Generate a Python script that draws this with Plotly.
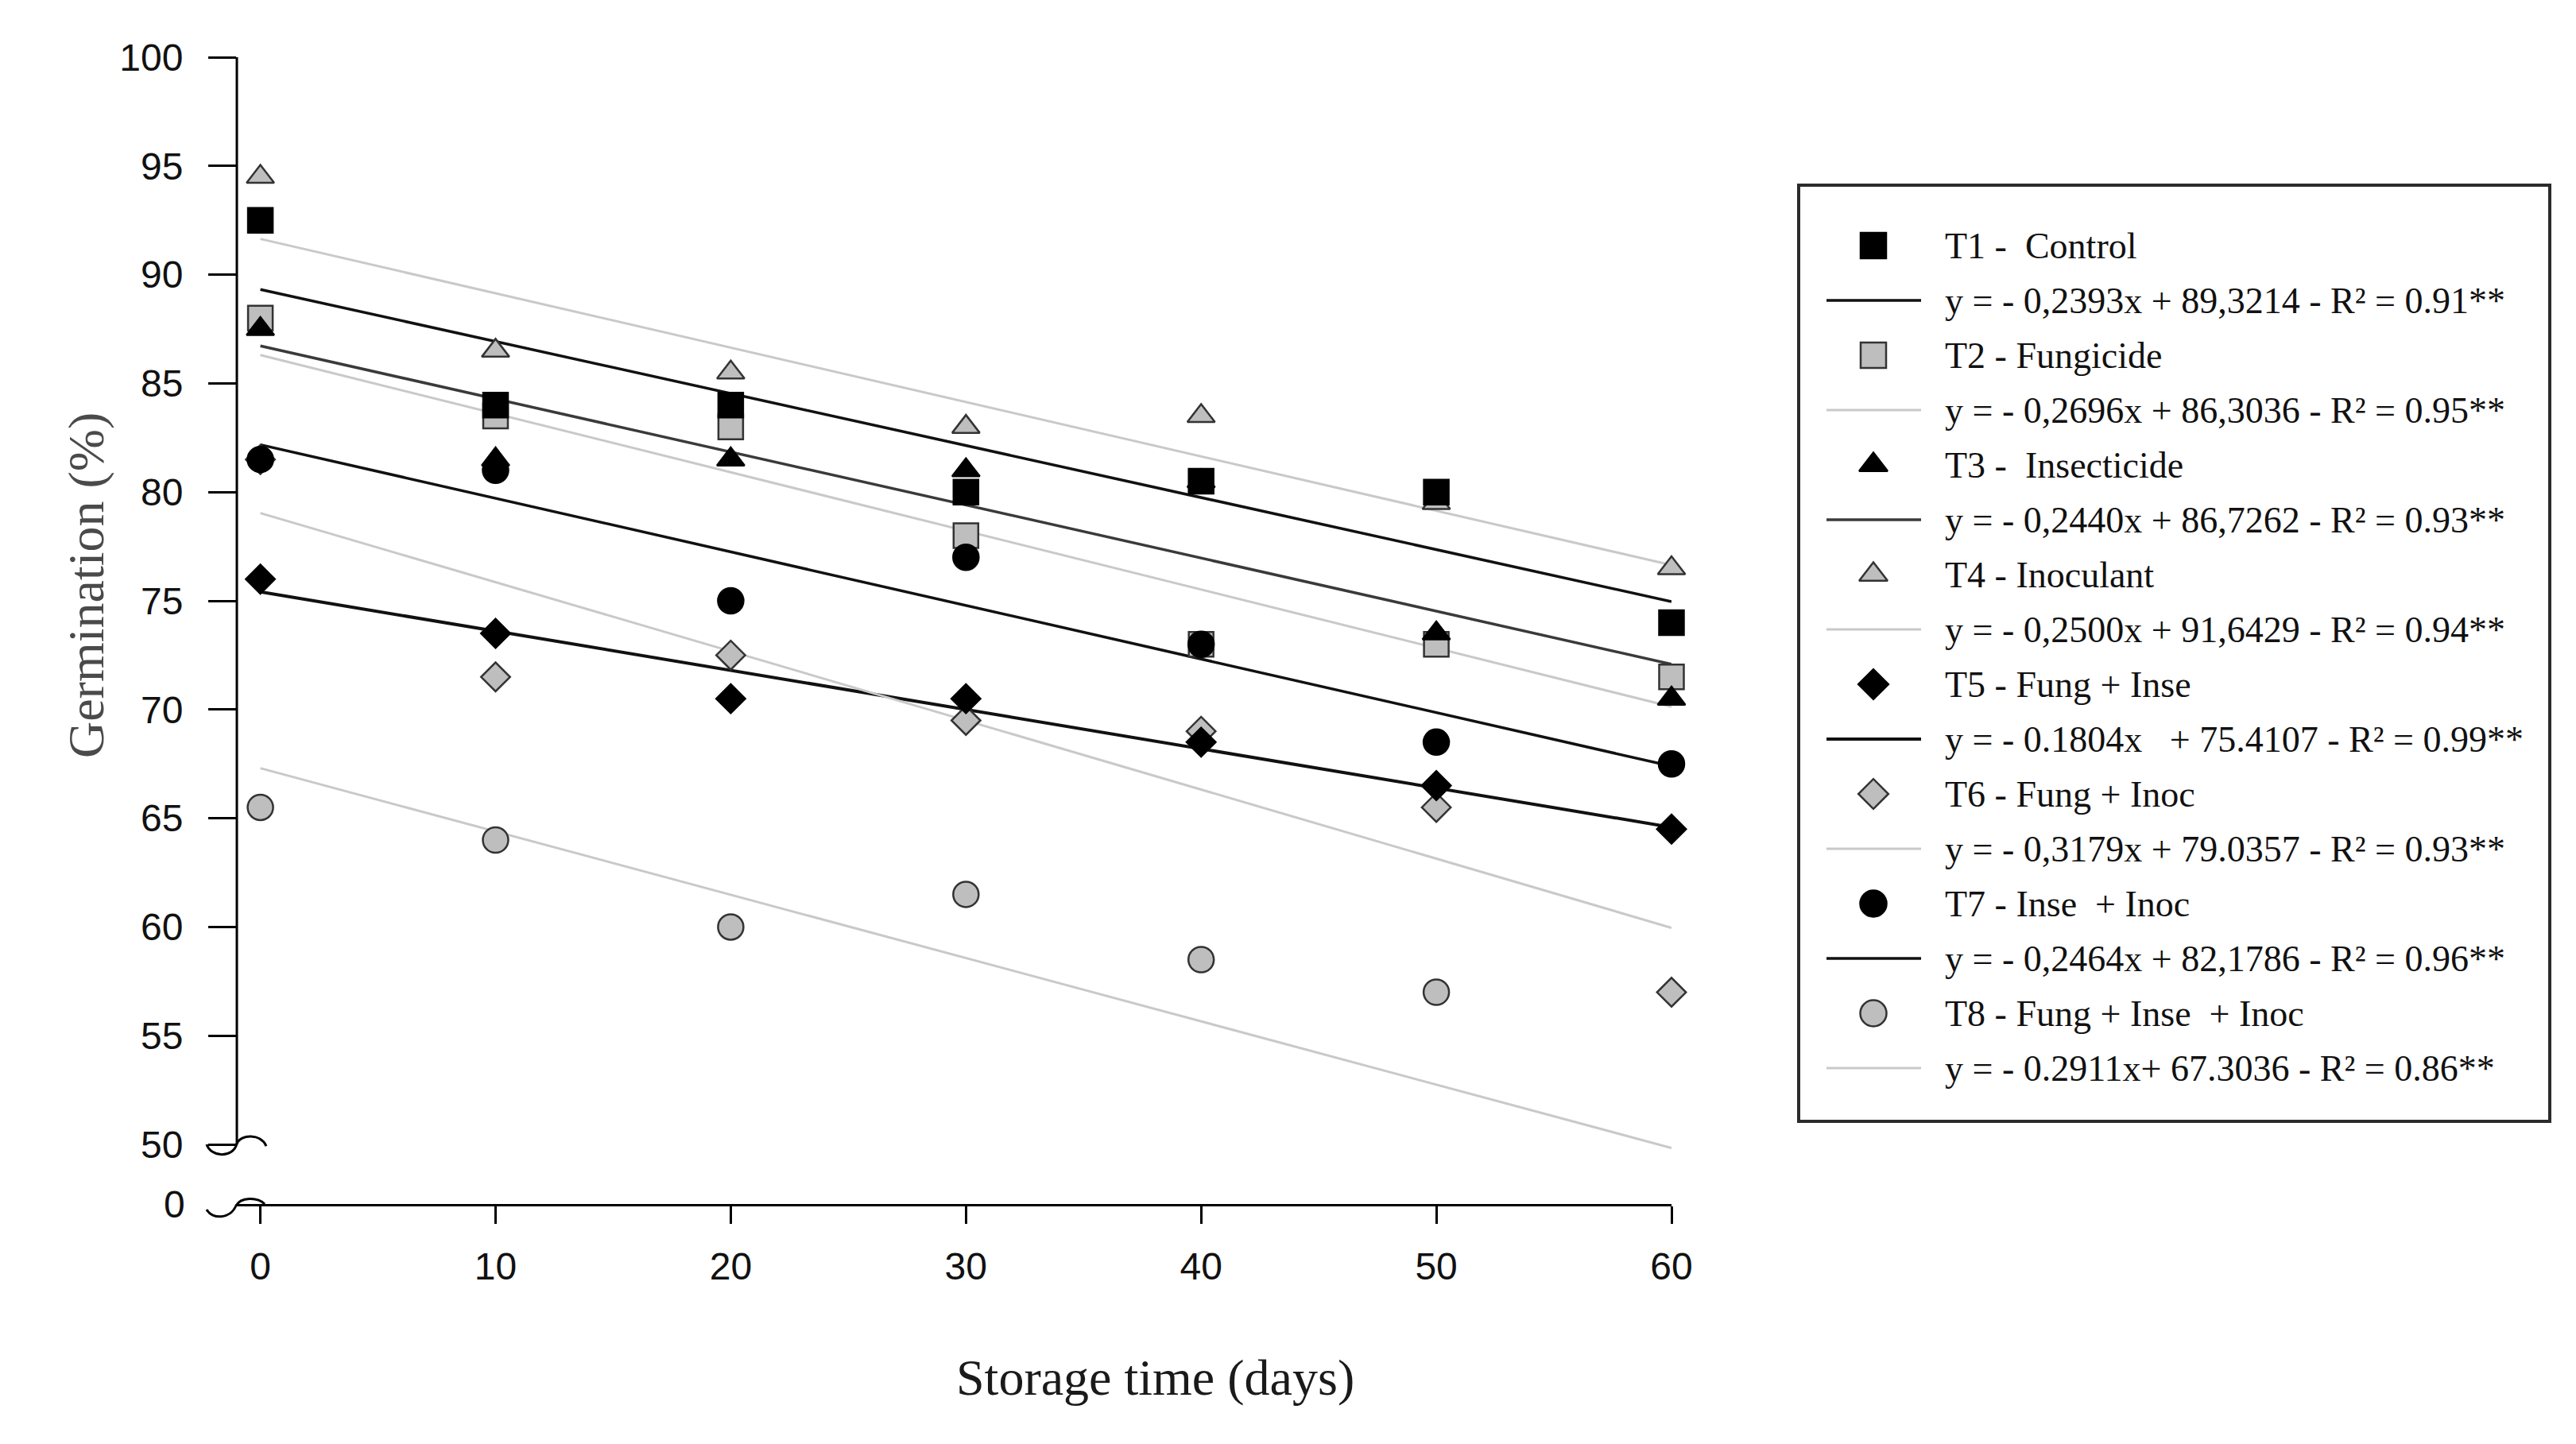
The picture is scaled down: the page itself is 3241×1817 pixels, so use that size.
import plotly.graph_objects as go

# ---------------- data ----------------
days = [0, 10, 20, 30, 40, 50, 60]

names = ["T1 -\u00a0 Control", "T2 - Fungicide", "T3 -\u00a0 Insecticide", "T4 - Inoculant",
         "T5 - Fung + Inse", "T6 - Fung + Inoc", "T7 - Inse\u00a0 + Inoc",
         "T8 - Fung + Inse\u00a0 + Inoc"]

t1 = [92.5, 84.0, 84.0, 80.0, 80.5, 80.0, 74.0]
t2 = [88.0, 83.5, 83.0, 78.0, 73.0, 73.0, 71.5]
t3 = [87.5, 81.5, 81.5, 81.0, 80.5, 73.5, 70.5]
t4 = [94.5, 86.5, 85.5, 83.0, 83.5, 79.5, 76.5]
t5 = [76.0, 73.5, 70.5, 70.5, 68.5, 66.5, 64.5]
t6 = [81.5, 71.5, 72.5, 69.5, 69.0, 65.5, 57.0]
t7 = [81.5, 81.0, 75.0, 77.0, 73.0, 68.5, 67.5]
t8 = [65.5, 64.0, 60.0, 61.5, 58.5, 57.0, None]
series = [t1, t2, t3, t4, t5, t6, t7, t8]

slopes = [-0.2393, -0.2696, -0.2440, -0.2500, -0.1804, -0.3179, -0.2464, -0.2911]
intercepts = [89.3214, 86.3036, 86.7262, 91.6429, 75.4107, 79.0357, 82.1786, 67.3036]

equations = [
    "y = - 0,2393x + 89,3214 - R² = 0.91**",
    "y = - 0,2696x + 86,3036 - R² = 0.95**",
    "y = - 0,2440x + 86,7262 - R² = 0.93**",
    "y = - 0,2500x + 91,6429 - R² = 0.94**",
    "y = - 0.1804x \u00a0 + 75.4107 - R² = 0.99**",
    "y = - 0,3179x + 79.0357 - R² = 0.93**",
    "y = - 0,2464x + 82,1786 - R² = 0.96**",
    "y = - 0.2911x+ 67.3036 - R² = 0.86**",
]

y_ticks = [50, 55, 60, 65, 70, 75, 80, 85, 90, 95, 100]
y_floor = 47.26  # value at which the broken axis shows "0"

# ---------------- styles ----------------
symbols = ["square", "square", "triangle-up", "triangle-up", "diamond", "diamond", "circle", "circle"]
sizes = {"square": 31, "triangle-up": 30, "diamond": 28, "circle": 32}
GRAY = "#bebebe"
fills = ["#000000", GRAY, "#000000", GRAY, "#000000", GRAY, "#000000", GRAY]
outlines = ["#000000", "#333333", "#000000", "#333333", "#000000", "#333333", "#000000", "#333333"]
line_colors = ["#111111", "#c9c9c9", "#3a3a3a", "#c9c9c9", "#111111", "#c9c9c9", "#111111", "#c9c9c9"]
line_widths = [3.5, 3, 3.5, 3, 4, 3, 3.5, 3]

W, H = 3241, 1817
PL, PR, PT, PB = 298, 2103, 72, 1515          # plot area in px
LL, LR, LT, LB = 2263, 3208, 233, 1411        # legend box in px
SERIF = "Liberation Serif, Times New Roman, serif"
SANS = "Liberation Sans, Arial, sans-serif"

fig = go.Figure()

# regression lines
for i in range(8):
    xs = [days[0], days[-1]]
    ys = [intercepts[i] + slopes[i] * x for x in xs]
    fig.add_trace(go.Scatter(x=xs, y=ys, mode="lines",
                             line=dict(color=line_colors[i], width=line_widths[i]),
                             hoverinfo="skip", cliponaxis=False))

# points: gray-filled first, black on top
order = [1, 3, 5, 7, 0, 2, 4, 6]
for i in order:
    fig.add_trace(go.Scatter(x=days, y=series[i], mode="markers", name=names[i],
                             cliponaxis=False,
                             marker=dict(symbol=symbols[i], size=sizes[symbols[i]],
                                         color=fills[i],
                                         line=dict(color=outlines[i], width=2.5))))

# ---------------- manual legend (on a helper axis in px units) ----------------
row0, row_step = 76, 69
for i in range(8):
    ym = row0 + row_step * (2 * i)
    yl = row0 + row_step * (2 * i + 1)
    fig.add_trace(go.Scatter(x=[94], y=[ym], mode="markers", xaxis="x2", yaxis="y2",
                             hoverinfo="skip",
                             marker=dict(symbol=symbols[i], size=sizes[symbols[i]] + 1,
                                         color=fills[i],
                                         line=dict(color=outlines[i], width=2.5))))
    fig.add_trace(go.Scatter(x=[35, 154], y=[yl, yl], mode="lines", xaxis="x2", yaxis="y2",
                             hoverinfo="skip",
                             line=dict(color=line_colors[i], width=line_widths[i])))

annotations = []
for i in range(8):
    for j, txt in enumerate([names[i], equations[i]]):
        annotations.append(dict(x=182, y=row0 + row_step * (2 * i + j), xref="x2", yref="y2",
                                text=txt, showarrow=False, xanchor="left", yanchor="middle",
                                font=dict(family=SERIF, size=46, color="#111111")))

# axis titles and the "0" of the broken y axis (paper = whole figure, margins are 0)
annotations.append(dict(x=1453 / W, y=1 - 1733 / H, xref="paper", yref="paper",
                        xanchor="center", yanchor="middle", showarrow=False,
                        text="Storage time (days)",
                        font=dict(family=SERIF, size=64, color="#1a1a1a")))
annotations.append(dict(x=108 / W, y=1 - 737 / H, xref="paper", yref="paper",
                        xanchor="center", yanchor="middle", showarrow=False, textangle=-90,
                        text="Germination (%)",
                        font=dict(family=SERIF, size=64, color="#4a4a4a")))
annotations.append(dict(x=0, y=y_floor, xref="x domain", yref="y", xanchor="right", yanchor="middle",
                        xshift=-63, showarrow=False, text="0",
                        font=dict(family=SANS, size=48, color="#111111")))

brk50 = (50 - y_floor) / (100 - y_floor)  # y-domain fraction of the 50 level
shapes = [
    # y axis line (only over the 50-100 part)
    dict(type="line", xref="x domain", yref="y", x0=0, x1=0, y0=50, y1=100,
         line=dict(color="#000000", width=3)),
    # axis break squiggles (domain refs -> not clipped to the plot area)
    dict(type="path", xref="x domain", yref="y domain", xsizemode="pixel", ysizemode="pixel",
         xanchor=0, yanchor=brk50,
         path="M-38,0 C-33,-16 -5,-18 0,1 C5,13 30,14 37,-2",
         line=dict(color="#000000", width=3)),
    dict(type="path", xref="x domain", yref="y domain", xsizemode="pixel", ysizemode="pixel",
         xanchor=0, yanchor=0,
         path="M-38,-7 C-31,-20 -8,-19 -1,-2 C5,9 26,9 35,0",
         line=dict(color="#000000", width=3)),
    # legend frame
    dict(type="rect", xref="x2 domain", yref="y2 domain", x0=0, x1=1, y0=0, y1=1,
         line=dict(color="#2b2b2b", width=4)),
]

fig.update_layout(
    width=W, height=H,
    margin=dict(l=0, r=0, t=0, b=0, autoexpand=False),
    paper_bgcolor="white", plot_bgcolor="white",
    showlegend=False,
    annotations=annotations, shapes=shapes,
    xaxis=dict(domain=[PL / W, PR / W], range=[-1, 60], anchor="y",
               showline=True, linecolor="#000000", linewidth=3,
               ticks="outside", ticklen=22, tickwidth=3, tickcolor="#000000",
               tickvals=days, ticktext=[str(d) for d in days],
               tickfont=dict(family=SANS, size=48, color="#111111"),
               ticklabelstandoff=12,
               showgrid=False, zeroline=False),
    yaxis=dict(domain=[1 - PB / H, 1 - PT / H], range=[y_floor, 100], anchor="x",
               showline=False,
               ticks="outside", ticklen=35, tickwidth=3, tickcolor="#000000",
               tickvals=y_ticks, ticktext=[str(v) for v in y_ticks],
               tickfont=dict(family=SANS, size=48, color="#111111"),
               ticklabelstandoff=22,
               showgrid=False, zeroline=False),
    xaxis2=dict(domain=[LL / W, LR / W], range=[0, LR - LL], anchor="y2", visible=False),
    yaxis2=dict(domain=[1 - LB / H, 1 - LT / H], range=[LB - LT, 0], anchor="x2", visible=False),
)

fig.write_html("out.html", config={"displayModeBar": False},
               post_script="document.body.style.margin='0';")
